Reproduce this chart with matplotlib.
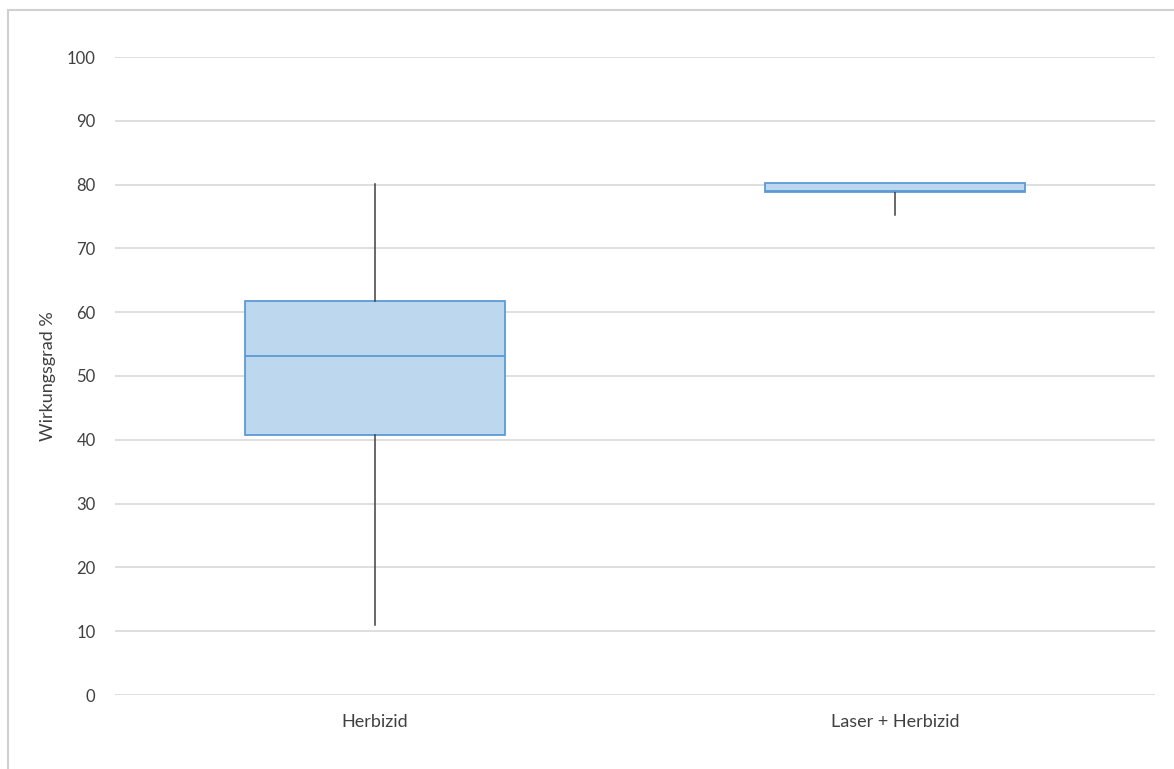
import matplotlib.pyplot as plt
from matplotlib.patches import Rectangle

plt.rcParams['font.family'] = ['Lato', 'DejaVu Sans']

# values
groups = ['Herbizid', 'Laser + Herbizid']
whislo = [11.0, 75.2]
q1 = [40.8, 78.9]
med = [53.1, 79.0]
q3 = [61.7, 80.3]
whishi = [80.1, 80.3]

stats = []
for i in range(len(groups)):
    stats.append({'label': groups[i], 'whislo': whislo[i], 'q1': q1[i], 'med': med[i],
                  'q3': q3[i], 'whishi': whishi[i], 'fliers': []})

fig = plt.figure(figsize=(11.74, 7.69), dpi=100)
ax = fig.add_axes([115/1174, 1 - 695/769, 1040/1174, 638/769])

# outer chart border
fig.patches.append(Rectangle((8/1174, -0.01), 1.2, 1 - 10/769 + 0.01, transform=fig.transFigure,
                             fill=False, edgecolor='#d0d0d0', linewidth=1.5))

ax.bxp(stats, positions=[0, 1], widths=0.5, showcaps=False, patch_artist=True,
       boxprops=dict(facecolor='#bdd7ee', edgecolor='#5b9bd5', linewidth=1.3),
       medianprops=dict(color='#5b9bd5', linewidth=1.3),
       whiskerprops=dict(color='#404040', linewidth=1.1))

ax.set_xlim(-0.5, 1.5)
ax.set_ylim(0, 100)
ax.set_yticks(range(0, 101, 10))
ax.yaxis.grid(True, color='#d9d9d9', linewidth=1.2)
ax.set_axisbelow(True)
for s in ax.spines.values():
    s.set_visible(False)
ax.tick_params(length=0, labelsize=12, colors='#404040', pad=14)
ax.tick_params(axis='x', pad=14, labelsize=13)
ax.set_ylabel('Wirkungsgrad %', fontsize=13, color='#404040', labelpad=8)

fig.savefig('out.png', dpi=100)
